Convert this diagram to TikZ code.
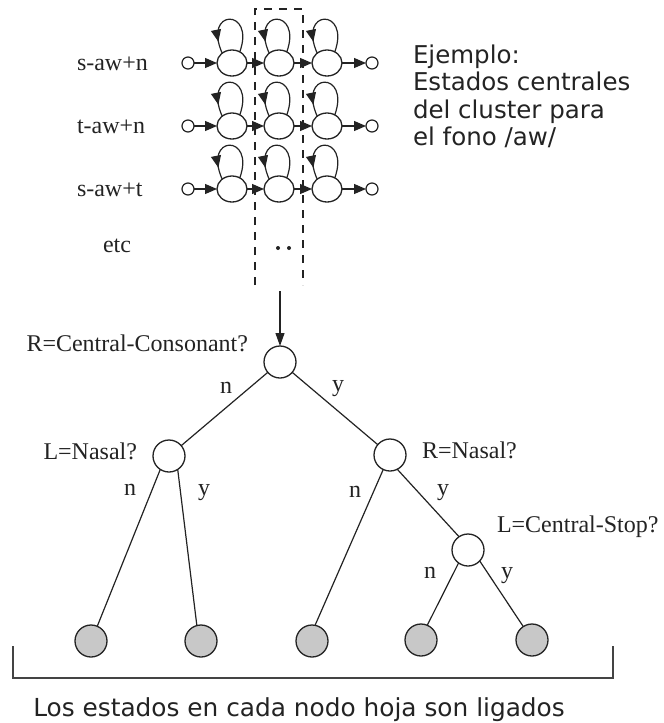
\documentclass[tikz,border=0pt]{standalone}
\usepackage{fontspec}
\setmainfont{Liberation Serif}
\newfontfamily\dejavu{DejaVu Sans}
\usetikzlibrary{arrows.meta,decorations.markings,shapes.geometric}
\definecolor{leafgray}{RGB}{200,200,200}
\definecolor{ink}{RGB}{35,35,35}
\begin{document}
\begin{tikzpicture}[x=1pt,y=-1pt,
  every node/.style={inner sep=0pt,outer sep=0pt},
  serif/.style={font=\fontsize{24}{28}\selectfont, text=ink},
  sans/.style={font=\dejavu\fontsize{24.5}{27.5}\selectfont, text=ink},
  hmm/.style={draw=ink, line width=1.3pt, ellipse, minimum width=30pt, minimum height=26pt},
  endpt/.style={draw=ink, line width=1.2pt, circle, minimum size=12pt},
  tri/.style={-{Triangle[length=12pt,width=10pt]}},
  link/.style={draw=ink, line width=1.2pt},
  selfloop/.style={link, postaction={decorate}, decoration={markings, mark=at position 0.85 with {\arrow{Triangle[length=12pt,width=10pt]}}}},
  qnode/.style={draw=ink, line width=1.3pt, circle, minimum size=32pt, fill=white},
  leaf/.style={qnode, fill=leafgray},
  branch/.style={draw=ink, line width=1.2pt},
]
\useasboundingbox (0,0) rectangle (664,723);
\fill[white] (0,0) rectangle (664,723);

% HMM rows
\foreach \r/\cy/\lab in {1/63/s-aw+n, 2/126/t-aw+n, 3/189/s-aw+t} {
  \node[serif, anchor=base west] (lab\r) at (77,\cy+7) {\lab};
  \node[endpt] (in\r) at (188,\cy) {};
  \node[hmm] (a\r) at (232,\cy) {};
  \node[hmm] (b\r) at (279,\cy) {};
  \node[hmm] (c\r) at (327,\cy) {};
  \node[endpt] (out\r) at (372,\cy) {};
  \draw[link,tri] (in\r) -- (a\r);
  \draw[link,tri] (a\r) -- (b\r);
  \draw[link,tri] (b\r) -- (c\r);
  \draw[link,tri] (c\r) -- (out\r);
  \foreach \s in {a,b,c} {
    \draw[selfloop] (\s\r.55) .. controls +(16,-44) and +(-20,-45) .. (\s\r.135);
  }
}
\node[serif, anchor=base west] (etc) at (103,252) {etc};

% dashed cluster box
\coordinate (dbl) at (255,285);
\coordinate (dtl) at (255,9);
\coordinate (dtr) at (303,9);
\coordinate (dbr) at (303,285);
\draw[ink, line width=1.2pt, dash pattern=on 8pt off 7pt] (dbl) -- (dtl) -- (dtr) -- (dbr);
\fill[ink] (278,248) circle (2pt);
\fill[ink] (289,248) circle (2pt);

% example text
\node[sans, anchor=base west] (ex1) at (413,63) {Ejemplo:};
\node[sans, anchor=base west] (ex2) at (413,90.5) {Estados centrales};
\node[sans, anchor=base west] (ex3) at (413,118) {del cluster para};
\node[sans, anchor=base west] (ex4) at (413,145.5) {el fono /aw/};

% tree
\node[qnode] (root) at (280,362) {};
\node[qnode] (nl) at (169,456) {};
\node[qnode] (nr) at (390,455) {};
\node[qnode] (ncs) at (468,550) {};
\node[leaf] (f1) at (91,641) {};
\node[leaf] (f2) at (201,641) {};
\node[leaf] (f3) at (312,641) {};
\node[leaf] (f4) at (421,640) {};
\node[leaf] (f5) at (532,640) {};

\coordinate (astart) at (280,291);
\draw[link, -{Triangle[length=13pt,width=9pt]}] (astart) -- (root);

\draw[branch] (root) -- (nl);
\draw[branch] (root) -- (nr);
\draw[branch] (nl.-123) -- (f1.67);
\draw[branch] (nl.-57) -- (f2.105);
\draw[branch] (nr.-115) -- (f3.79);
\draw[branch] (nr.-63) -- (ncs.124);
\draw[branch] (ncs.-126) -- (f4.67);
\draw[branch] (ncs.-43) -- (f5.123);

\node[serif, anchor=base east] (q1) at (248,351) {R=Central-Consonant?};
\node[serif, anchor=base east] (q2) at (137,459) {L=Nasal?};
\node[serif, anchor=base west] (q3) at (422,458) {R=Nasal?};
\node[serif, anchor=base west] (q4) at (497,532) {L=Central-Stop?};

\node[serif, anchor=base] (e1) at (226,393.5) {n};
\node[serif, anchor=base] (e2) at (338,391) {y};
\node[serif, anchor=base] (e3) at (130,495.5) {n};
\node[serif, anchor=base] (e4) at (204,495) {y};
\node[serif, anchor=base] (e5) at (355,497.5) {n};
\node[serif, anchor=base] (e6) at (443,495) {y};
\node[serif, anchor=base] (e7) at (430,578.5) {n};
\node[serif, anchor=base] (e8) at (507,578) {y};

% bracket
\coordinate (bl) at (13,646);
\coordinate (bbl) at (13,678);
\coordinate (bbr) at (613,678);
\coordinate (br) at (613,646);
\draw[ink!85, line width=1.3pt] (bl) -- (bbl) -- (bbr) -- (br);

\node[sans, font=\dejavu\fontsize{24.8}{28}\selectfont, anchor=base] (foot) at (299,716) {Los estados en cada nodo hoja son ligados};
\end{tikzpicture}
\end{document}
